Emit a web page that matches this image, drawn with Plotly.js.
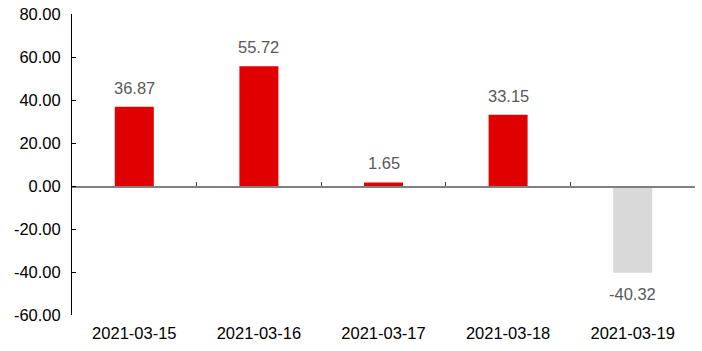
<!DOCTYPE html>
<html><head><meta charset="utf-8">
<script src="https://cdn.plot.ly/plotly-3.0.1.min.js"></script>
<style>html,body{margin:0;padding:0;background:#fff;}#chart{width:702px;height:351px;}</style>
</head><body><div id="chart"></div>
<script>
const categories = ['2021-03-15', '2021-03-16', '2021-03-17', '2021-03-18', '2021-03-19'];
const values = [36.87, 55.72, 1.65, 33.15, -40.32];
const yTickValues = [-60, -40, -20, 0, 20, 40, 60, 80];
const yRange = [-60, 80];

const posColor = '#E00000';
const negColor = '#D9D9D9';
const fontFamily = '"Liberation Sans", Arial, sans-serif';

const barTrace = {
  type: 'bar',
  x: categories,
  y: values,
  marker: { color: values.map(v => v >= 0 ? posColor : negColor), line: { width: 0 } },
  hoverinfo: 'none',
  xaxis: 'x',
  yaxis: 'y'
};
const zeroAxisTrace = {
  type: 'scatter',
  mode: 'none',
  x: categories,
  y: values,
  xaxis: 'x2',
  yaxis: 'y',
  hoverinfo: 'none',
  showlegend: false
};

const annotations = values.map((v, i) => ({
  x: categories[i],
  y: v,
  xref: 'x',
  yref: 'y',
  text: v.toFixed(2),
  showarrow: false,
  yanchor: v >= 0 ? 'bottom' : 'top',
  yshift: v >= 0 ? 8 : -10,
  font: { family: fontFamily, size: 16.5, color: '#595959' }
}));

const layout = {
  width: 702,
  height: 351,
  margin: { l: 72, r: 7, t: 14, b: 36, pad: 0 },
  paper_bgcolor: '#ffffff',
  plot_bgcolor: '#ffffff',
  showlegend: false,
  bargap: 0.687,
  font: { family: fontFamily, size: 16.5, color: '#000000' },
  xaxis: {
    type: 'category',
    categoryorder: 'array',
    categoryarray: categories,
    range: [-0.5, categories.length - 0.5],
    showline: false,
    ticks: '',
    showgrid: false,
    zeroline: false,
    tickfont: { family: fontFamily, size: 16.5, color: '#000000' },
    ticklabelstandoff: 6
  },
  xaxis2: {
    type: 'category',
    categoryorder: 'array',
    categoryarray: categories,
    range: [-0.5, categories.length - 0.5],
    overlaying: 'x',
    anchor: 'free',
    position: (0 - yRange[0]) / (yRange[1] - yRange[0]),
    showline: true,
    linecolor: '#808080',
    linewidth: 1.5,
    ticks: 'inside',
    tickson: 'boundaries',
    ticklen: 4,
    tickwidth: 1,
    tickcolor: '#404040',
    showticklabels: false,
    showgrid: false,
    zeroline: false
  },
  yaxis: {
    range: yRange,
    tickvals: yTickValues,
    ticktext: yTickValues.map(v => v.toFixed(2)),
    showline: true,
    linecolor: '#000000',
    linewidth: 1,
    ticks: 'inside',
    ticklen: 4,
    tickwidth: 1,
    tickcolor: '#000000',
    showgrid: false,
    zeroline: false,
    tickfont: { family: fontFamily, size: 16.5, color: '#000000' },
    ticklabelstandoff: 7
  },
  annotations: annotations
};

Plotly.newPlot('chart', [barTrace, zeroAxisTrace], layout, { staticPlot: true, displayModeBar: false });
</script>
</body></html>
